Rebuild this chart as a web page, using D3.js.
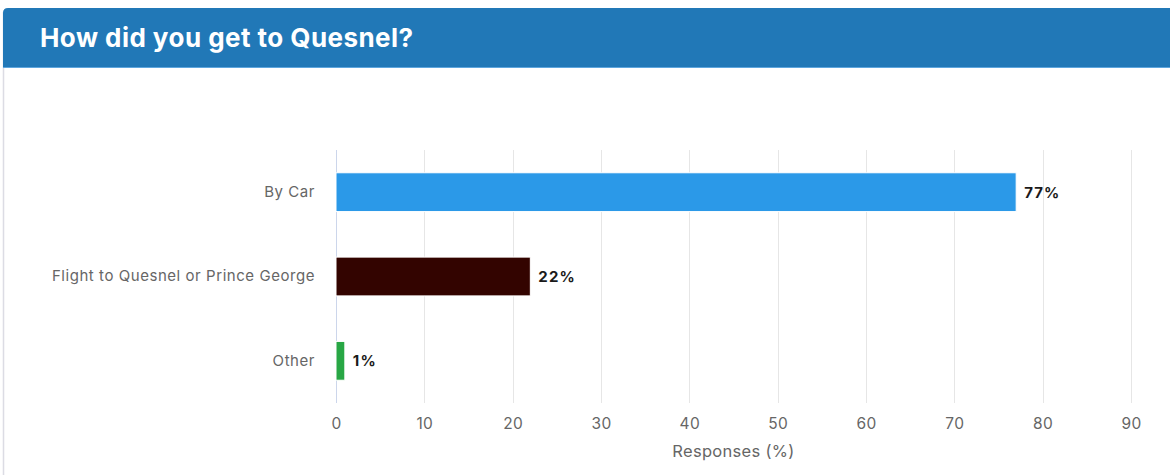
<!DOCTYPE html>
<html>
<head>
<meta charset="utf-8">
<script src="https://cdn.jsdelivr.net/npm/d3@7"></script>
<style>
  html, body { margin: 0; padding: 0; background: #fff; }
  svg { display: block; font-family: Inter, "Liberation Sans", Arial, sans-serif; }
</style>
</head>
<body>
<svg id="chart" width="1170" height="475"></svg>
<script>
const title = "How did you get to Quesnel?";
const categories = ["By Car", "Flight to Quesnel or Prince George", "Other"];
const values = [77, 22, 1];
const barColors = ["#2b99e8", "#330400", "#28a745"];
const xTicks = [0, 10, 20, 30, 40, 50, 60, 70, 80, 90];
const xTitle = "Responses (%)";

const W = 1170, H = 475;
const FONT = "Inter, Liberation Sans, Arial, sans-serif";
const svg = d3.select("#chart");

// Panel: left border and header band
svg.append("line").attr("x1", 3.5).attr("x2", 3.5).attr("y1", 12).attr("y2", H)
  .attr("stroke", "#dcdce4").attr("stroke-width", 1.5);
svg.append("path")
  .attr("d", `M3,67 L3,13 Q3,8 8,8 L${W},8 L${W},67 Z`)
  .attr("fill", "#2178b7");
svg.append("line").attr("x1", 3).attr("x2", W).attr("y1", 67.5).attr("y2", 67.5)
  .attr("stroke", "#5ea6de").attr("stroke-width", 1);
svg.append("text").attr("x", 40).attr("y", 47)
  .attr("fill", "#fff").attr("font-size", 26).attr("font-weight", "bold")
  .attr("letter-spacing", 0.45)
  .text(title);

// Plot area
const plot = { left: 336, right: 1131, top: 150, bottom: 403 };
const x = d3.scaleLinear().domain([0, 90]).range([plot.left, plot.right]);
const y = d3.scaleBand().domain(categories).range([plot.top, plot.bottom]).paddingInner(0.54).paddingOuter(0.27);

const g = svg.append("g");

// Vertical grid lines
g.selectAll("line.grid").data(xTicks.slice(1)).join("line")
  .attr("class", "grid")
  .attr("x1", d => Math.round(x(d)) + 0.5).attr("x2", d => Math.round(x(d)) + 0.5)
  .attr("y1", plot.top).attr("y2", plot.bottom)
  .attr("stroke", "#e6e6e6").attr("stroke-width", 1);

// Category axis line
g.append("line")
  .attr("x1", plot.left + 0.5).attr("x2", plot.left + 0.5)
  .attr("y1", plot.top).attr("y2", plot.bottom)
  .attr("stroke", "#ccd6eb").attr("stroke-width", 1);

// Bars
g.selectAll("rect.bar").data(values).join("rect")
  .attr("class", "bar")
  .attr("x", x(0))
  .attr("y", (d, i) => y(categories[i]))
  .attr("width", d => x(d) - x(0))
  .attr("height", y.bandwidth())
  .attr("fill", (d, i) => barColors[i])
  .attr("stroke", "#fff").attr("stroke-width", 1);

// Value labels
g.selectAll("text.val").data(values).join("text")
  .attr("class", "val")
  .attr("x", d => x(d) + 8)
  .attr("y", (d, i) => y(categories[i]) + y.bandwidth() / 2)
  .attr("dy", "0.36em")
  .attr("font-size", 15).attr("font-weight", "bold").attr("fill", "#1a1a1a")
  .attr("letter-spacing", 1.1)
  .text(d => d + "%");

// Category labels (y axis)
const yAxis = d3.axisLeft(y).tickSize(0).tickPadding(21);
const ya = svg.append("g").attr("transform", `translate(${plot.left},0)`).call(yAxis);
ya.select(".domain").remove();
ya.selectAll("text").attr("font-size", 15).attr("fill", "#666")
  .attr("letter-spacing", 0.55)
  .attr("font-family", FONT);

// Value axis ticks
const xAxis = d3.axisBottom(x).tickValues(xTicks).tickSize(0).tickPadding(15).tickFormat(d3.format("d"));
const xa = svg.append("g").attr("transform", `translate(0,${plot.bottom})`).call(xAxis);
xa.select(".domain").remove();
xa.selectAll("text").attr("font-size", 15.5).attr("fill", "#666")
  .attr("letter-spacing", 0.4)
  .attr("font-family", FONT);

// Value axis title
svg.append("text")
  .attr("x", (plot.left + plot.right) / 2).attr("y", 457)
  .attr("text-anchor", "middle").attr("font-size", 16.5).attr("fill", "#666")
  .attr("letter-spacing", 0.3)
  .text(xTitle);
</script>
</body>
</html>
